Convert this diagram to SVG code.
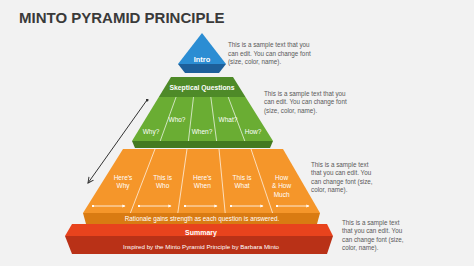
<svg xmlns="http://www.w3.org/2000/svg" width="474" height="266" viewBox="0 0 474 266">
  <defs>
    <style>
      .title{font-family:"Liberation Sans",Arial,sans-serif;font-weight:bold;font-size:15px;fill:#3a3a3a}
      .lbl{font-family:"Liberation Sans",Arial,sans-serif;fill:#fff;text-anchor:middle}
      .b{font-weight:bold}
      .note{font-family:"Liberation Sans",Arial,sans-serif;font-size:6.3px;fill:#595959}
      .div{stroke:#fff;stroke-width:0.8;fill:none;opacity:0.85}
      .arr{stroke:#fff;stroke-width:0.8;fill:none}
    </style>
    <marker id="wh" viewBox="0 0 6 6" refX="5" refY="3" markerWidth="4" markerHeight="4" orient="auto">
      <path d="M0,0 L6,3 L0,6 z" fill="#fff"/>
    </marker>
    <marker id="wd" viewBox="0 0 6 6" refX="3" refY="3" markerWidth="3" markerHeight="3">
      <circle cx="3" cy="3" r="3" fill="#fff"/>
    </marker>
    <marker id="ah" viewBox="0 0 10 10" refX="9" refY="5" markerWidth="7" markerHeight="7" orient="auto" markerUnits="userSpaceOnUse">
      <path d="M1,1 L9,5 L1,9" fill="none" stroke="#333" stroke-width="1.4"/>
    </marker>
    <marker id="ad" viewBox="0 0 6 6" refX="3" refY="3" markerWidth="3" markerHeight="3" markerUnits="userSpaceOnUse">
      <circle cx="3" cy="3" r="3" fill="#333"/>
    </marker>
  </defs>
  <rect width="474" height="266" fill="#f2f2f2"/>
  <text class="title" x="19" y="23">MINTO PYRAMID PRINCIPLE</text>

  <g id="node-intro">
    <polygon points="202,33 226,64 178,64" fill="#2b8dd3"/>
    <polygon points="178,64 226,64 219,73 185,73" fill="#1d5f9a"/>
    <text class="lbl b" x="202" y="62" font-size="7.5">Intro</text>
  </g>

  <g id="node-skeptical">
    <polygon points="158.8,97 245.5,97 273,141 132,141" fill="#6aad33"/>
    <polygon points="171,77 233,77 245.5,97 158.8,97" fill="#4e8a28"/>
    <polygon points="132,141 273,141 270,148 135,148" fill="#437a20"/>
    <line class="div" x1="176.1" y1="97" x2="160.2" y2="141"/>
    <line class="div" x1="193.5" y1="97" x2="188.4" y2="141"/>
    <line class="div" x1="210.8" y1="97" x2="216.6" y2="141"/>
    <line class="div" x1="228.2" y1="97" x2="244.8" y2="141"/>
    <text class="lbl b" x="202" y="90" font-size="6.8">Skeptical Questions</text>
    <g font-size="6.5">
      <text class="lbl" x="151" y="133.5">Why?</text>
      <text class="lbl" x="177" y="121.5">Who?</text>
      <text class="lbl" x="202" y="133.5">When?</text>
      <text class="lbl" x="228" y="121.5">What?</text>
      <text class="lbl" x="253" y="133.5">How?</text>
    </g>
  </g>

  <g id="node-answers">
    <polygon points="123,149 283,149 320,213 83,213" fill="#f5962a"/>
    <polygon points="83,213 320,213 317,224 86,224" fill="#d97b12"/>
    <line class="div" x1="155" y1="149" x2="130.4" y2="213"/>
    <line class="div" x1="187" y1="149" x2="177.8" y2="213"/>
    <line class="div" x1="219" y1="149" x2="225.2" y2="213"/>
    <line class="div" x1="251" y1="149" x2="272.6" y2="213"/>
    <g font-size="6.5">
      <text class="lbl" x="123" y="179.5">Here’s</text>
      <text class="lbl" x="123" y="188">Why</text>
      <text class="lbl" x="162.6" y="179.5">This is</text>
      <text class="lbl" x="162.6" y="188">Who</text>
      <text class="lbl" x="202.3" y="179.5">Here’s</text>
      <text class="lbl" x="202.3" y="188">When</text>
      <text class="lbl" x="242" y="179.5">This is</text>
      <text class="lbl" x="242" y="188">What</text>
      <text class="lbl" x="281.6" y="179.5">How</text>
      <text class="lbl" x="281.6" y="188">&amp; How</text>
      <text class="lbl" x="281.6" y="196.5">Much</text>
    </g>
    <g marker-start="url(#wd)" marker-end="url(#wh)">
      <line class="arr" x1="93" y1="206" x2="125" y2="206"/>
      <line class="arr" x1="139" y1="206" x2="171" y2="206"/>
      <line class="arr" x1="185" y1="206" x2="217" y2="206"/>
      <line class="arr" x1="231" y1="206" x2="263" y2="206"/>
      <line class="arr" x1="277" y1="206" x2="309" y2="206"/>
    </g>
    <text class="lbl" x="202" y="221" font-size="6.3">Rationale gains strength as each question is answered.</text>
  </g>

  <g id="node-summary">
    <polygon points="72,224 327,224 333,236 65,236" fill="#e8431d"/>
    <polygon points="65,236 333,236 327,254 72,254" fill="#b93117"/>
    <text class="lbl b" x="201" y="234.5" font-size="7">Summary</text>
    <text class="lbl" x="201" y="248.5" font-size="6.2">Inspired by the Minto Pyramid Principle by Barbara Minto</text>
  </g>

  <g id="connectors">
    <line x1="147" y1="100" x2="88" y2="183" stroke="#333" stroke-width="1" marker-start="url(#ad)" marker-end="url(#ah)"/>
  </g>

  <g id="notes">
    <text class="note" x="228" y="47">This is a sample text that you</text>
    <text class="note" x="228" y="55.5">can edit. You can change font</text>
    <text class="note" x="228" y="64">(size, color, name).</text>

    <text class="note" x="264" y="95.5">This is a sample text that you</text>
    <text class="note" x="264" y="104">can edit. You can change font</text>
    <text class="note" x="264" y="112.5">(size, color, name).</text>

    <text class="note" x="311" y="166.5">This is a sample text</text>
    <text class="note" x="311" y="175">that you can edit. You</text>
    <text class="note" x="311" y="183.5">can change font (size,</text>
    <text class="note" x="311" y="192">color, name).</text>

    <text class="note" x="342" y="224.5">This is a sample text</text>
    <text class="note" x="342" y="233">that you can edit. You</text>
    <text class="note" x="342" y="241.5">can change font (size,</text>
    <text class="note" x="342" y="250">color, name).</text>
  </g>
</svg>
